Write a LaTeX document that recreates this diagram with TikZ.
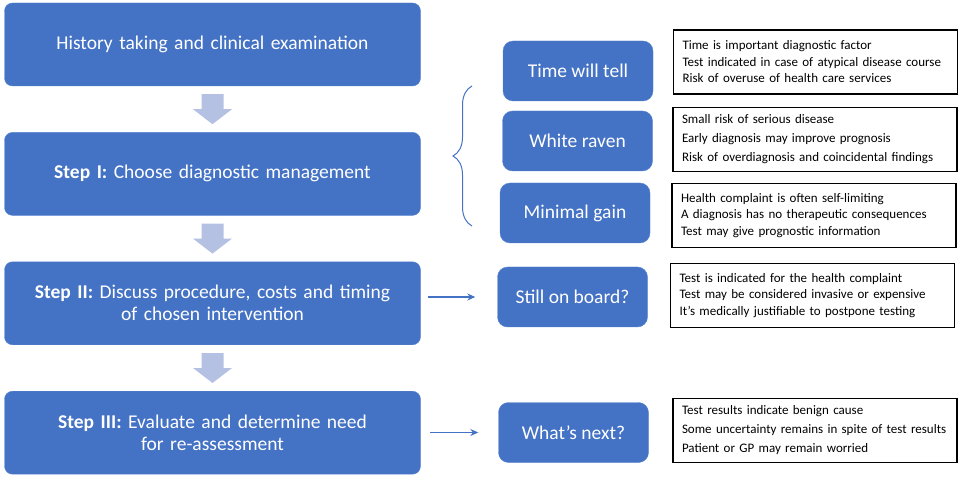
\documentclass[tikz,border=0pt]{standalone}
\usepackage{fontspec}
\setmainfont{Carlito}
\usetikzlibrary{arrows.meta,positioning,calc,decorations.pathreplacing}
\definecolor{boxblue}{HTML}{4472C4}
\definecolor{boxedge}{HTML}{5A86D2}
\definecolor{downfill}{HTML}{B4C1E3}

\begin{document}
\begin{tikzpicture}[
        x=1pt, y=-1pt,
        node distance=46pt,
        stage/.style={rectangle, draw=boxedge, fill=boxblue, text=white, text width=400pt, inner xsep=8pt, align=center, rounded corners=8pt, minimum height=83pt, font=\fontsize{19.5}{22}\selectfont},
        option/.style={rectangle, draw=boxedge, fill=boxblue, text=white, align=center, rounded corners=10pt, minimum width=150pt, minimum height=60pt, font=\fontsize{19.5}{22}\selectfont},
        notes/.style={rectangle, draw=black, line width=1.1pt, fill=white, text width=266pt, inner xsep=9pt, align=left, minimum height=64pt, font=\fontsize{13}{16.5}\selectfont},
        downarrow/.style={fill=downfill, draw=none},
        flow/.style={-{Stealth[length=8pt, width=7pt]}, line width=1.2pt, draw=boxblue},
        bracket/.style={draw=boxblue, line width=1pt, decorate, decoration={brace, amplitude=19pt}}
        ]
        \useasboundingbox (0,0) rectangle (980,478);

        % main steps
        \node[stage] (hist) at (212.5,44.5) {History taking and clinical examination};
        \node[stage, below=of hist] (stepone) {\textbf{Step I:} Choose diagnostic management};
        \node[stage, below=of stepone] (steptwo) {\textbf{Step II:} Discuss procedure, costs and timing\\ of chosen intervention};
        \node[stage, below=of steptwo] (stepthree) {\textbf{Step III:} Evaluate and determine need\\ for re-assessment};

        % block arrows between the steps
        \foreach \a/\b/\n in {hist/stepone/downone, stepone/steptwo/downtwo, steptwo/stepthree/downthree} {
            \coordinate (\n) at ($(\a.south)!0.5!(\b.north)$);
            \fill[downarrow] ([shift={(-11,-15)}]\n) -- ([shift={(-11,0)}]\n) -- ([shift={(-19.5,0)}]\n)
                -- ([shift={(0,15)}]\n) -- ([shift={(19.5,0)}]\n) -- ([shift={(11,0)}]\n) -- ([shift={(11,-15)}]\n) -- cycle;
        }

        % options
        \node[option] (time) at (578,71) {Time will tell};
        \node[option] (raven) at (577.5,141) {White raven};
        \node[option] (gain) at (575,213) {Minimal gain};
        \node[option] (board) at (572.5,297) {Still on board?};
        \node[option] (next) at (573.5,432.5) {What’s next?};

        \node[notes] (timenotes) at (815.5,62) {Time is important diagnostic factor\\ Test indicated in case of atypical disease course\\ Risk of overuse of health care services};
        \node[notes] (ravennotes) at (815,139.5) {Small risk of serious disease\\[2.5pt] Early diagnosis may improve prognosis\\[2.5pt] Risk of overdiagnosis and coincidental findings};
        \node[notes] (gainnotes) at (814,215.5) {Health complaint is often self-limiting\\ A diagnosis has no therapeutic consequences\\ Test may give prognostic information};
        \node[notes] (boardnotes) at (812.5,295.5) {Test is indicated for the health complaint\\ Test may be considered invasive or expensive\\ It’s medically justifiable to postpone testing};
        \node[notes] (nextnotes) at (815,430.5) {Test results indicate benign cause\\[2.5pt] Some uncertainty remains in spite of test results\\[2.5pt] Patient or GP may remain worried};

        % brace and arrows
        \draw[bracket] (472,226) -- (472,86);
        \draw[flow] ([xshift=7pt]steptwo.east |- board.west) -- ([xshift=-22pt]board.west);
        \draw[flow] ([xshift=9pt]stepthree.east |- next.west) -- ([xshift=-20pt]next.west);
    \end{tikzpicture}
\end{document}
